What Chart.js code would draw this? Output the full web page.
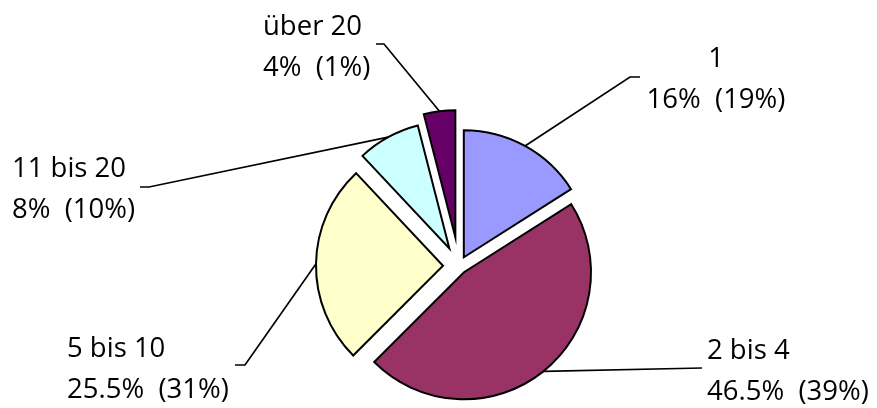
<!DOCTYPE html>
<html>
<head>
<meta charset="utf-8">
<script src="https://cdn.jsdelivr.net/npm/chart.js@4.4.1/dist/chart.umd.min.js"></script>
<style>
  html, body { margin: 0; padding: 0; background: #fff; }
  #wrap { width: 877px; height: 408px; position: relative; }
</style>
</head>
<body>
<div id="wrap"><canvas id="pieChart"></canvas></div>
<script>
// data
const categories = ["1", "2 bis 4", "5 bis 10", "11 bis 20", "über 20"];
const shares = [16, 46.5, 25.5, 8, 4];
const compareShares = [19, 39, 31, 10, 1];

// styling
const colors = ["#9999FF", "#993366", "#FFFFCC", "#CCFFFF", "#660066"];
const explode = [10, 8, 16, 20, 29];

// label anchor (first baseline) and leader start, in px
const labelPos = [
    { x: 716, y: 67, align: "center", lx: 640, ly: 77, tick: -10 },
    { x: 707, y: 359, align: "left", lx: 702, ly: 368, tick: 0 },
    { x: 67, y: 357, align: "left", lx: 235, ly: 365, tick: 10 },
    { x: 12, y: 177, align: "left", lx: 140, ly: 187, tick: 9 },
    { x: 263, y: 35, align: "left", lx: 376, ly: 44, tick: 8 }
];
const lineGap = 41;

// move each slice out along its middle angle
const explodePlugin = {
    id: "explode",
    afterDatasetsUpdate(chart) {
        chart.getDatasetMeta(0).data.forEach((arc, i) => {
            const mid = (arc.startAngle + arc.endAngle) / 2;
            arc.x += Math.cos(mid) * explode[i];
            arc.y += Math.sin(mid) * explode[i];
        });
    }
};

const labelPlugin = {
    id: "pieLabels",
    afterDraw(chart) {
        const c = chart.ctx;
        c.save();
        c.font = '27.5px "Open Sans"';
        c.fillStyle = "#000";
        c.strokeStyle = "#000";
        c.lineWidth = 1.7;
        c.textBaseline = "alphabetic";
        chart.getDatasetMeta(0).data.forEach((arc, i) => {
            const mid = (arc.startAngle + arc.endAngle) / 2;
            const ex = arc.x + Math.cos(mid) * arc.outerRadius;
            const ey = arc.y + Math.sin(mid) * arc.outerRadius;
            const p = labelPos[i];
            c.beginPath();
            c.moveTo(p.lx, p.ly);
            c.lineTo(p.lx + p.tick, p.ly);
            c.lineTo(ex, ey);
            c.stroke();
            c.textAlign = p.align;
            c.fillText(categories[i], p.x, p.y);
            c.fillText(shares[i] + "%  (" + compareShares[i] + "%)", p.x, p.y + lineGap);
        });
        c.restore();
    }
};

const pieCtx = document.getElementById("pieChart");

new Chart(pieCtx, {
    type: "pie",
    data: {
        labels: categories,
        datasets: [
            {
                data: shares,
                backgroundColor: colors,
                borderColor: "#000",
                borderWidth: 2,
                borderJoinStyle: "miter"
            }
        ]
    },
    options: {
        responsive: true,
        maintainAspectRatio: false,
        animation: false,
        events: [],
        radius: 127,
        layout: {
            padding: { left: 41, right: 0, top: 124, bottom: 0 }
        },
        plugins: {
            legend: { display: false },
            tooltip: { enabled: false }
        }
    },
    plugins: [explodePlugin, labelPlugin]
});
</script>
</body>
</html>
